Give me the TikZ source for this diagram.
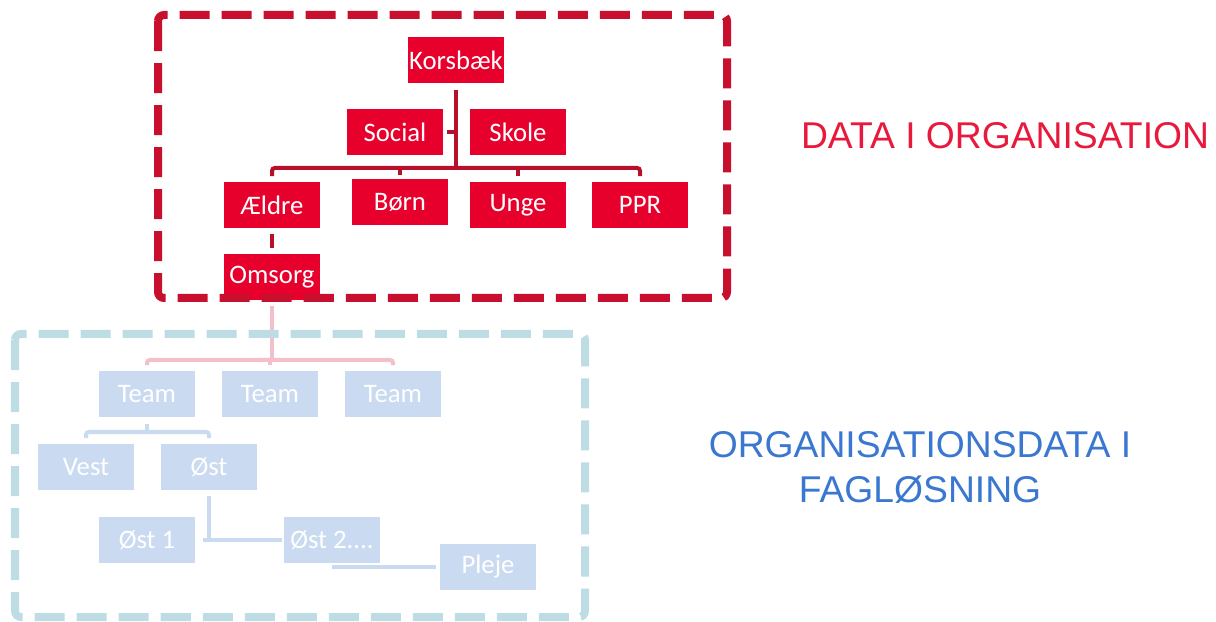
\documentclass[tikz,border=0pt]{standalone}
\usepackage{fontspec}
\setmainfont{Carlito}
\newfontfamily\headfont{Liberation Sans}

\definecolor{unitred}{HTML}{E8002D}
\definecolor{framered}{HTML}{C8102E}
\definecolor{linkred}{HTML}{B80F2A}
\definecolor{unitblue}{HTML}{C9DAF1}
\definecolor{frameblue}{HTML}{BEDCE4}
\definecolor{linkpink}{HTML}{F3C0C9}
\definecolor{headred}{HTML}{E8193C}
\definecolor{headblue}{HTML}{3A77D0}

\tikzset{
  unit/.style={minimum width=2.375cm, minimum height=1.125cm, inner sep=0pt,
    text=white, font=\fontsize{19}{22}\selectfont},
  redunit/.style={unit, fill=unitred},
  blueunit/.style={unit, fill=unitblue},
  frame/.style={line width=0.2cm, dash pattern=on 0.75cm off 0.3cm, rounded corners=0.15cm},
  redlink/.style={draw=linkred, line width=0.1cm},
  pinklink/.style={draw=linkpink, line width=0.1cm},
  bluelink/.style={draw=unitblue, line width=0.1cm},
  heading/.style={font=\headfont\fontsize{26.5}{32}\selectfont, align=center}
}

\begin{document}
\begin{tikzpicture}[x=0.025cm, y=-0.025cm]
  \useasboundingbox (0,0) rectangle (1216,622);

  % organisation in the municipality
  \node[redunit] (korsbaek) at (456,60)  {Korsbæk};
  \node[redunit] (social)   at (395,132) {Social};
  \node[redunit] (skole)    at (518,132) {Skole};
  \node[redunit] (aeldre)   at (272,205) {Ældre};
  \node[redunit] (boern)    at (400,202) {Børn};
  \node[redunit] (unge)     at (518,205) {Unge};
  \node[redunit] (ppr)      at (640,205) {PPR};
  \node[redunit] (omsorg)   at (272,277) {Omsorg};
  \coordinate (redbar) at (456,168);

  \draw[redlink] ([yshift=-0.18cm]korsbaek.south) -- (korsbaek.south |- redbar);
  \draw[redlink] ([xshift=0.1cm]social.east) -- (korsbaek.south |- social.east);
  \draw[redlink, rounded corners=2pt] ([yshift=0.15cm]aeldre.north) -- (aeldre.north |- redbar)
    -- (ppr.north |- redbar) -- ([yshift=0.15cm]ppr.north);
  \draw[redlink] (boern.north |- redbar) -- ([yshift=0.1cm]boern.north);
  \draw[redlink] (unge.north |- redbar) -- ([yshift=0.15cm]unge.north);
  \draw[redlink] ([yshift=-0.15cm]aeldre.south) -- ([yshift=0.15cm]omsorg.north);

  % organisation in the system
  \node[blueunit] (teama)  at (147,394) {Team};
  \node[blueunit] (teamb)  at (270,394) {Team};
  \node[blueunit] (teamc)  at (393,394) {Team};
  \node[blueunit] (vest)   at (86,467)  {Vest};
  \node[blueunit] (oest)   at (209,467) {Øst};
  \node[blueunit] (oesta)  at (147,540) {Øst 1};
  \node[blueunit] (oestb)  at (332,540) {Øst 2....};
  \node[blueunit] (pleje)  at (488,567) {Pleje};
  \coordinate (pinkbar) at (270,360);
  \coordinate (bluebar) at (147,432);

  \draw[pinklink] ([yshift=-0.15cm]omsorg.south) -- (omsorg.south |- pinkbar);
  \draw[pinklink, rounded corners=2pt] ([yshift=0.15cm]teama.north) -- (teama.north |- pinkbar)
    -- (teamc.north |- pinkbar) -- ([yshift=0.15cm]teamc.north);
  \draw[pinklink] (teamb.north |- pinkbar) -- ([yshift=0.15cm]teamb.north);

  \draw[bluelink] ([yshift=-0.18cm]teama.south) -- (bluebar);
  \draw[bluelink, rounded corners=2pt] ([yshift=0.15cm]vest.north) -- (vest.north |- bluebar)
    -- (oest.north |- bluebar) -- ([yshift=0.15cm]oest.north);
  \draw[bluelink] ([yshift=-0.15cm]oest.south) -- (oest.south |- oestb.west);
  \draw[bluelink] ([xshift=0.2cm]oesta.east) -- ([xshift=-0.05cm]oestb.west);
  \draw[bluelink] (oestb.south |- pleje.west) -- ([xshift=-0.1cm]pleje.west);

  % frames
  \draw[frame, framered] (158,15) rectangle (727,298);
  \draw[frame, frameblue] (15,334) rectangle (585,617);

  % headings
  \node[heading, text=headred] (dataorg) at (1005,136) {DATA I ORGANISATION};
  \node[heading, text=headblue] (fagdata) at (920,467) {ORGANISATIONSDATA I\\FAGLØSNING};
\end{tikzpicture}
\end{document}
